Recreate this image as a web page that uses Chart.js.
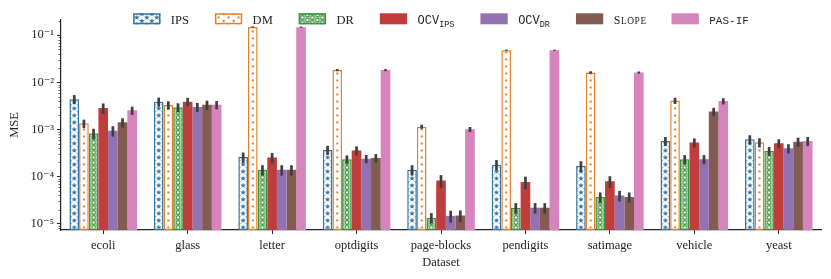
<!DOCTYPE html>
<html><head><meta charset="utf-8">
<script src="https://cdn.jsdelivr.net/npm/chart.js@4/dist/chart.umd.min.js"></script>
<style>html,body{margin:0;padding:0;background:#fff}#wrap{width:831px;height:279px;position:relative}</style>
</head><body><div id="wrap"><canvas id="c" width="831" height="279"></canvas></div>
<script>
// ---------------- data ----------------
const categories = ['ecoli','glass','letter','optdigits','page-blocks','pendigits','satimage','vehicle','yeast'];
const seriesNames = ['IPS','DM','DR','OCV_IPS','OCV_DR','Slope','PAS-IF'];
const ips    = [4.4e-3, 3.9e-3, 2.6e-4, 3.7e-4, 1.4e-4, 1.8e-4, 1.7e-4, 5.7e-4, 6.2e-4];
const dm     = [1.35e-3, 3.3e-3, 0.15, 0.0182, 1.15e-3, 0.048, 0.0162, 4.1e-3, 5.35e-4];
const dr     = [8.3e-4, 2.95e-3, 1.4e-4, 2.35e-4, 1.35e-5, 2.2e-5, 3.7e-5, 2.35e-4, 3.5e-4];
const ocvIps = [2.85e-3, 3.9e-3, 2.55e-4, 3.6e-4, 8.3e-5, 7.7e-5, 8.0e-5, 5.3e-4, 5.1e-4];
const ocvDr  = [9.4e-4, 3.0e-3, 1.4e-4, 2.4e-4, 1.48e-5, 2.2e-5, 4.0e-5, 2.35e-4, 4.0e-4];
const slope  = [1.42e-3, 3.35e-3, 1.4e-4, 2.5e-4, 1.5e-5, 2.2e-5, 3.7e-5, 2.4e-3, 5.5e-4];
const pasIf  = [2.55e-3, 3.35e-3, 0.148, 0.0182, 1.01e-3, 0.048, 0.0162, 4.0e-3, 5.7e-4];
// relative half-widths of the error bars
const ipsErr    = [0.22, 0.22, 0.25, 0.22, 0.25, 0.25, 0.25, 0.22, 0.22];
const dmErr     = [0.20, 0.20, 0.03, 0.05, 0.10, 0.03, 0.06, 0.15, 0.22];
const drErr     = [0.25, 0.22, 0.25, 0.20, 0.25, 0.25, 0.25, 0.22, 0.22];
const ocvIpsErr = [0.25, 0.20, 0.25, 0.22, 0.30, 0.30, 0.28, 0.22, 0.22];
const ocvDrErr  = [0.25, 0.22, 0.25, 0.20, 0.28, 0.25, 0.25, 0.22, 0.22];
const slopeErr  = [0.22, 0.22, 0.25, 0.20, 0.28, 0.25, 0.25, 0.20, 0.22];
const pasIfErr  = [0.20, 0.20, 0.03, 0.05, 0.12, 0.03, 0.05, 0.15, 0.22];
const yMajorTicks = [1e-5, 1e-4, 1e-3, 1e-2, 1e-1];
const yTickLabels = ['10⁻⁵', '10⁻⁴', '10⁻³', '10⁻²', '10⁻¹'];
const yMin = 7.4e-6, yMax = 0.21;

// ---------------- styles ----------------
const SERIF = '"Liberation Serif", "DejaVu Serif", serif';
const MONO = '"Liberation Mono", "DejaVu Sans Mono", monospace';
const INK = '#222';
const palette = ['#3274a1', '#e1812c', '#3a923a', '#c03d3e', '#9372b2', '#845b53', '#d684bd'];
const hatches = ['star', 'dot', 'ring', null, null, null, null];

function makeTile(kind, color) {
  const c = document.createElement('canvas');
  const w = 10, h = kind === 'ring' ? 10 : 14;
  c.width = w; c.height = h;
  const g = c.getContext('2d');
  g.fillStyle = '#fff'; g.fillRect(0, 0, w, h);
  g.fillStyle = color; g.strokeStyle = color;
  const star = (cx, cy) => {
    const R = 2.9, r = 1.25;
    g.beginPath();
    for (let k = 0; k < 10; k++) {
      const a = -Math.PI / 2 + k * Math.PI / 5;
      const rr = k % 2 ? r : R;
      g.lineTo(cx + rr * Math.cos(a), cy + rr * Math.sin(a));
    }
    g.closePath(); g.fill();
  };
  const dot = (cx, cy) => { g.beginPath(); g.arc(cx, cy, 1.15, 0, Math.PI * 2); g.fill(); };
  const ring = (cx, cy) => { g.beginPath(); g.lineWidth = 1.2; g.arc(cx, cy, 1.9, 0, Math.PI * 2); g.stroke(); };
  const f = kind === 'star' ? star : kind === 'dot' ? dot : ring;
  const q = h / 4;
  [q, 3 * q].forEach(y => f(w / 2, y));
  [0, 2 * q, h].forEach(y => { f(0, y); f(w, y); });
  return c;
}
const tiles = hatches.map((k, i) => k ? makeTile(k, palette[i]) : null);

function patternFor(di, ctx2d, barLeft, barW) {
  const t = tiles[di];
  const p = ctx2d.createPattern(t, 'repeat');
  const dx = barLeft - (t.width - barW) / 2;
  p.setTransform(new DOMMatrix().translate(dx, 0));
  return p;
}

const valueArrays = [ips, dm, dr, ocvIps, ocvDr, slope, pasIf];
const errArrays = [ipsErr, dmErr, drErr, ocvIpsErr, ocvDrErr, slopeErr, pasIfErr];

const datasets = valueArrays.map((vals, di) => ({
  label: seriesNames[di],
  data: vals,
  errs: errArrays[di],
  backgroundColor: hatches[di] ? (c) => {
    const ch = c.chart, xs = ch.scales && ch.scales.x;
    if (!xs || c.type !== 'data' || !ch.ctx) return '#fff';
    const catW = xs.width / categories.length;
    const bw = catW * 0.8 / valueArrays.length;
    const left = xs.getPixelForValue(c.dataIndex) - 0.4 * catW + di * bw;
    return patternFor(di, ch.ctx, left, bw);
  } : palette[di],
  borderColor: palette[di],
  borderWidth: hatches[di] ? 1.5 : 0,
  borderSkipped: false,
  categoryPercentage: 0.8,
  barPercentage: 1.0,
}));

// ---------------- plugins ----------------
const errorBars = {
  id: 'errorBars',
  afterDatasetsDraw(chart) {
    const ctx = chart.ctx, ys = chart.scales.y;
    ctx.save();
    ctx.strokeStyle = '#3f3f3f';
    ctx.lineWidth = 2.7;
    ctx.lineCap = 'butt';
    chart.data.datasets.forEach((ds, di) => {
      const meta = chart.getDatasetMeta(di);
      meta.data.forEach((bar, i) => {
        const v = ds.data[i], e = ds.errs[i] * v;
        const y1 = ys.getPixelForValue(v + e), y2 = ys.getPixelForValue(v - e);
        ctx.beginPath(); ctx.moveTo(bar.x, y1); ctx.lineTo(bar.x, y2); ctx.stroke();
      });
    });
    ctx.restore();
  }
};

const minorTicks = {
  id: 'minorTicks',
  afterDraw(chart) {
    const ctx = chart.ctx, ys = chart.scales.y, x0 = chart.chartArea.left;
    ctx.save();
    ctx.strokeStyle = INK; ctx.lineWidth = 0.7;
    ys.ticks.forEach(t => {
      if (t.major) return;
      const y = Math.round(ys.getPixelForValue(t.value)) + 0.5;
      ctx.beginPath(); ctx.moveTo(x0 - 2.5, y); ctx.lineTo(x0, y); ctx.stroke();
    });
    ctx.restore();
  }
};

const legendPlugin = {
  id: 'customLegend',
  afterDraw(chart) {
    const ctx = chart.ctx;
    const ca = chart.chartArea;
    const swW = 27.3, swH = 11, gapText = 10.4, gapItem = 26;
    const top = 13.3, base = 24;
    ctx.save();
    const widths = seriesNames.map(name => {
      if (name === 'OCV_IPS' || name === 'OCV_DR') {
        ctx.font = '12px ' + MONO; let w = ctx.measureText('OCV').width;
        ctx.font = '8.5px ' + MONO; w += ctx.measureText(name.slice(4)).width;
        return w;
      }
      if (name === 'Slope') {
        ctx.font = '12px ' + SERIF; let w = ctx.measureText('S').width;
        ctx.font = '9.4px ' + SERIF; w += ctx.measureText('LOPE').width + 3 * 0.6;
        return w;
      }
      if (name === 'PAS-IF') { ctx.font = '11px ' + MONO; return ctx.measureText(name).width; }
      ctx.font = '12.5px ' + SERIF; return ctx.measureText(name).width;
    });
    const total = widths.reduce((a, w) => a + swW + gapText + w, 0) + gapItem * (seriesNames.length - 1);
    let x = (ca.left + ca.right) / 2 - total / 2;
    seriesNames.forEach((name, di) => {
      if (hatches[di]) {
        ctx.fillStyle = patternFor(di, ctx, x, swW);
        ctx.fillRect(x, top, swW, swH);
        ctx.strokeStyle = palette[di]; ctx.lineWidth = 1.5;
        ctx.strokeRect(x + 0.75, top + 0.75, swW - 1.5, swH - 1.5);
      } else {
        ctx.fillStyle = palette[di];
        ctx.fillRect(x, top, swW, swH);
      }
      let tx = x + swW + gapText;
      ctx.fillStyle = INK; ctx.textBaseline = 'alphabetic'; ctx.textAlign = 'left';
      if (name === 'OCV_IPS' || name === 'OCV_DR') {
        ctx.font = '12px ' + MONO; ctx.fillText('OCV', tx, base);
        const w = ctx.measureText('OCV').width;
        ctx.font = '8.5px ' + MONO; ctx.fillText(name.slice(4), tx + w, base + 2.5);
      } else if (name === 'Slope') {
        ctx.font = '12px ' + SERIF; ctx.fillText('S', tx, base);
        let cx = tx + ctx.measureText('S').width + 0.6;
        ctx.font = '9.4px ' + SERIF;
        for (const ch of 'LOPE') { ctx.fillText(ch, cx, base); cx += ctx.measureText(ch).width + 0.6; }
      } else if (name === 'PAS-IF') {
        ctx.font = '11px ' + MONO; ctx.fillText(name, tx, base);
      } else {
        ctx.font = '12.5px ' + SERIF; ctx.fillText(name, tx, base);
      }
      x = tx + widths[di] + gapItem;
    });
    ctx.restore();
  }
};

// ---------------- chart ----------------
new Chart(document.getElementById('c'), {
  type: 'bar',
  data: { labels: categories, datasets },
  plugins: [errorBars, minorTicks, legendPlugin],
  options: {
    responsive: false,
    animation: false,
    devicePixelRatio: 1,
    layout: { padding: { left: 0, right: 10, top: 20, bottom: 0 } },
    plugins: { legend: { display: false }, tooltip: { enabled: false } },
    scales: {
      x: {
        type: 'category',
        offset: true,
        afterFit: (s) => { s.height = 49; },
        grid: { display: true, drawOnChartArea: false, offset: false, tickLength: 4, tickColor: INK, tickWidth: 1 },
        border: { display: true, color: INK, width: 1.2 },
        ticks: { color: INK, font: { family: SERIF, size: 12.5 }, padding: 4, autoSkip: false, maxRotation: 0 },
        title: { display: true, text: 'Dataset', color: INK, font: { family: SERIF, size: 12.5 }, padding: { top: 0, bottom: 9 } }
      },
      y: {
        type: 'logarithmic',
        min: yMin, max: yMax,
        afterFit: (s) => { s.width = 61; },
        afterBuildTicks: (s) => {
          const t = [];
          for (let e = -6; e <= -1; e++) {
            for (let m = 1; m <= 9; m++) {
              const v = m * Math.pow(10, e);
              if (v >= yMin && v <= yMax) t.push({ value: v, major: m === 1 });
            }
          }
          s.ticks = t;
        },
        grid: {
          display: true, drawOnChartArea: false, tickLength: 4,
          tickColor: (c) => (c.tick && c.tick.major) ? INK : 'rgba(0,0,0,0)',
          tickWidth: 1
        },
        border: { display: true, color: INK, width: 1.2 },
        ticks: {
          color: INK, font: { family: SERIF, size: 12.5 }, padding: 3, autoSkip: false,
          major: { enabled: true },
          callback: (v) => {
            const k = yMajorTicks.findIndex(m => Math.abs(m - v) / m < 1e-6);
            return k >= 0 ? yTickLabels[k] : '';
          }
        },
        title: { display: true, text: 'MSE', color: INK, font: { family: SERIF, size: 12.5 }, padding: { top: 7, bottom: 0 } }
      }
    }
  }
});
</script>
</body></html>
